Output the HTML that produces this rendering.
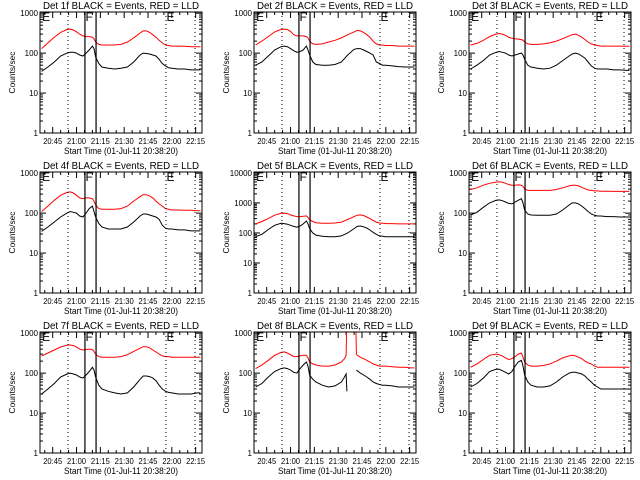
<!DOCTYPE html>
<html><head><meta charset="utf-8"><style>
html,body{margin:0;padding:0;background:#fff;}
svg{display:block;font-family:"Liberation Sans",sans-serif;}
</style></head><body>
<svg id="chart" width="640" height="480" viewBox="0 0 640 480" xmlns="http://www.w3.org/2000/svg">
<rect x="0" y="0" width="640" height="480" fill="#fff"/>
</svg>
<script>
const tickLabels = ["20:45","21:00","21:15","21:30","21:45","22:00","22:15"];
const tickTimes = [45,60,75,90,105,120,135];
const times = [38,42,46,50,54,56,58,60,62,64,66,68,70,71,72,74,76,80,84,88,92,96,100,102,104,106,108,110,112,114,116,118,120,124,128,132,136,138];
const times8 = [38,42,46,50,54,56,58,60,62,64,66,68,70,71,72,74,76,80,84,88,92,94,95,95.5,101,101.5,102,104,106,108,110,112,114,116,118,120,124,128,132,136,138];
const black1 = [35,45,60,85,100,105,105,100,90,85,100,120,150,130,80,55,45,42,40,42,45,60,90,100,98,95,90,85,70,55,48,43,42,40,40,38,38,38];
const red1 = [130,180,250,330,390,400,380,340,300,270,260,260,250,230,190,165,160,160,160,165,190,240,320,360,360,330,290,250,210,180,160,155,150,150,148,145,145,145];
const black2 = [50,60,85,120,145,150,145,130,115,105,110,120,150,120,90,60,52,50,50,52,60,90,125,130,130,120,110,100,90,60,55,50,50,48,46,45,45,45];
const red2 = [160,200,260,340,390,400,390,350,290,270,270,270,260,240,200,170,165,170,190,210,240,290,340,370,360,330,290,250,200,170,160,160,155,155,150,150,150,150];
const black3 = [40,50,65,90,105,110,105,100,90,85,90,95,100,90,70,50,45,42,40,42,50,65,85,95,100,95,85,75,60,48,42,40,40,40,38,38,37,37];
const red3 = [160,175,210,260,300,310,300,280,250,235,230,225,220,210,190,170,165,165,170,180,200,230,270,290,300,280,250,220,190,170,160,155,150,150,150,150,148,148];
const black4 = [35,45,60,80,100,110,105,100,85,80,100,130,150,110,80,55,45,40,40,40,45,60,85,95,95,90,85,80,70,50,42,40,40,38,38,36,36,36];
const red4 = [110,150,210,280,330,340,320,280,240,230,240,240,230,200,160,130,125,125,125,130,150,200,260,290,290,270,240,200,170,150,130,125,120,120,118,118,115,115];
const black5 = [75,90,130,180,210,205,195,180,165,155,170,200,250,200,140,100,85,78,75,75,80,100,140,165,170,160,145,125,105,90,80,78,75,75,75,75,75,75];
const red5 = [200,240,300,390,450,460,440,400,370,350,350,360,370,330,270,240,220,210,210,215,230,280,350,390,400,380,340,300,260,230,215,210,205,205,200,200,200,200];
const black6 = [90,105,140,180,210,215,205,190,175,170,190,210,230,180,120,95,90,88,88,88,95,120,160,180,180,170,150,130,110,95,88,85,85,82,82,80,80,80];
const red6 = [390,430,500,560,600,610,590,560,520,500,500,510,500,470,400,370,370,370,370,370,390,430,480,500,500,480,440,410,380,370,360,360,355,355,350,350,350,350];
const black7 = [30,40,55,80,95,100,95,90,80,75,90,110,140,120,80,50,40,35,32,30,32,45,70,85,85,82,75,65,50,40,35,33,32,30,30,30,32,32];
const red7 = [270,320,380,450,500,510,490,450,400,380,390,400,390,350,300,260,250,250,250,260,290,350,420,460,460,430,380,340,300,270,260,260,250,250,250,250,250,250];
const black8 = [45,55,80,110,130,135,130,120,105,100,130,160,190,150,90,70,60,50,45,48,60,80,95,35,null,120,115,100,90,80,70,60,55,52,50,50,48,45,45,45,45];
const red8 = [130,160,210,280,330,340,320,290,260,260,270,280,280,240,190,170,160,150,150,160,190,230,280,3000,3000,300,280,250,230,210,190,170,160,150,150,150,145,140,140,135,135];
const black9 = [45,55,75,110,125,125,115,105,95,110,150,190,210,150,90,60,50,45,45,48,60,80,100,105,105,100,95,85,70,60,50,45,40,40,40,40,40,40];
const red9 = [140,170,220,280,300,290,270,240,220,230,260,300,320,250,190,160,150,150,155,170,200,240,270,280,270,250,230,200,180,170,150,140,140,140,140,140,140,140];
const dottedTimes = [54.6,116.3,134.6];
const solidTimes = [65.3,72.3];
const markerTimes = [38,65.3,116.3];
const markerText = ["E","F","E"];

const panels = [
 {det:1,t:times,b:black1,r:red1,dec:3},{det:2,t:times,b:black2,r:red2,dec:3},{det:3,t:times,b:black3,r:red3,dec:3},
 {det:4,t:times,b:black4,r:red4,dec:3},{det:5,t:times,b:black5,r:red5,dec:4},{det:6,t:times,b:black6,r:red6,dec:3},
 {det:7,t:times,b:black7,r:red7,dec:3},{det:8,t:times8,b:black8,r:red8,dec:3},{det:9,t:times,b:black9,r:red9,dec:3}];
const NS="http://www.w3.org/2000/svg";
const svg=document.getElementById('chart');
function mk(tag,attrs,parent){const e=document.createElementNS(NS,tag);for(const k in attrs)e.setAttribute(k,attrs[k]);(parent||svg).appendChild(e);return e;}
const lefts=[40,254,469], W=162, H=121;
panels.forEach((p,i)=>{
  const col=i%3,row=Math.floor(i/3);
  const L=lefts[col], T=12+row*160, B=T+H, R=L+W;
  const xs=t=>L+(t-37)*W/102;
  const span=p.dec+0.03;
  const ys=v=>B-Math.log10(v)/span*H;
  const g=mk('g',{});
  
  
  const clipId='clip'+i;
  const cp=mk('clipPath',{id:clipId},g);mk('rect',{x:L,y:T,width:W,height:H},cp);
  const tt=mk('text',{x:L+W/2,y:T-3,'font-size':10,'text-anchor':'middle',fill:'#000',textLength:156,lengthAdjust:'spacingAndGlyphs'},g);
  tt.textContent='Det '+p.det+'f BLACK = Events, RED = LLD';
  
  
  for(let d=0;d<=p.dec;d++){
    const y=ys(Math.pow(10,d));
    mk('line',{x1:L,x2:L+6,y1:y,y2:y,stroke:'#000','stroke-width':1},g);
    mk('line',{x1:R,x2:R-6,y1:y,y2:y,stroke:'#000','stroke-width':1},g);
    const lb=mk('text',{x:L-2,y:y+3,'font-size':8,'text-anchor':'end',fill:'#000'},g);
    lb.textContent=String(Math.pow(10,d));
    
    
    if(d<p.dec){for(let m=2;m<=9;m++){const ym=ys(m*Math.pow(10,d));
      mk('line',{x1:L,x2:L+3,y1:ym,y2:ym,stroke:'#000','stroke-width':1},g);
      mk('line',{x1:R,x2:R-3,y1:ym,y2:ym,stroke:'#000','stroke-width':1},g);}}
  }
  tickTimes.forEach((tm,k)=>{const x=xs(tm);
    mk('line',{x1:x,x2:x,y1:B,y2:B-6,stroke:'#000'},g);
    mk('line',{x1:x,x2:x,y1:T,y2:T+6,stroke:'#000'},g);
    for(let m=5;m<15;m+=5){const xm=xs(tm-m);if(xm>L){mk('line',{x1:xm,x2:xm,y1:B,y2:B-3,stroke:'#000'},g);mk('line',{x1:xm,x2:xm,y1:T,y2:T+3,stroke:'#000'},g);}}
    const lb=mk('text',{x:x,y:B+11,'font-size':8,'text-anchor':'middle',fill:'#000',textLength:19,lengthAdjust:'spacingAndGlyphs'},g);
    lb.textContent=tickLabels[k];
    
    
  });
  const xt=mk('text',{x:L+W/2,y:B+21,'font-size':9,'text-anchor':'middle',fill:'#000',textLength:114,lengthAdjust:'spacingAndGlyphs'},g);
  xt.textContent='Start Time (01-Jul-11 20:38:20)';
  
  
  const yt=mk('text',{x:0,y:0,'font-size':8,'text-anchor':'middle',fill:'#000',textLength:42,lengthAdjust:'spacingAndGlyphs',transform:`translate(${L-25},${T+H/2}) rotate(-90)`},g);
  yt.textContent='Counts/sec';
  
  
  const gs=mk('g',{'clip-path':`url(#${clipId})`},g);
  [[p.r,'#ff0000','red-lld-series'],[p.b,'#000','black-events-series']].forEach(([vals,c,nm])=>{
    let d='',pen=false;
    vals.forEach((v,k)=>{if(v==null){pen=false;return;}d+=(pen?'L':'M')+xs(p.t[k]).toFixed(1)+' '+ys(v).toFixed(1);pen=true;});
    const pa=mk('path',{d:d,fill:'none',stroke:c,'stroke-width':1},gs);
    
    
  });
  dottedTimes.forEach(tm=>{const x=xs(tm);const l=mk('line',{x1:x,x2:x,y1:T,y2:B,stroke:'#000','stroke-dasharray':'1 3'},g);
    });
  solidTimes.forEach(tm=>{const x=xs(tm);const l=mk('line',{x1:x,x2:x,y1:T,y2:B,stroke:'#000','stroke-width':1.2},g);
    });
  markerTimes.forEach((tm,k)=>{const tx=mk('text',{x:xs(tm)+0.5,y:T+9,'font-size':12,fill:'#000'},g);
    tx.textContent=markerText[k];
    });
  const box=mk('rect',{x:L,y:T,width:W,height:H,fill:'none',stroke:'#000','stroke-width':1},g);
  
  
});
</script>
</body></html>
